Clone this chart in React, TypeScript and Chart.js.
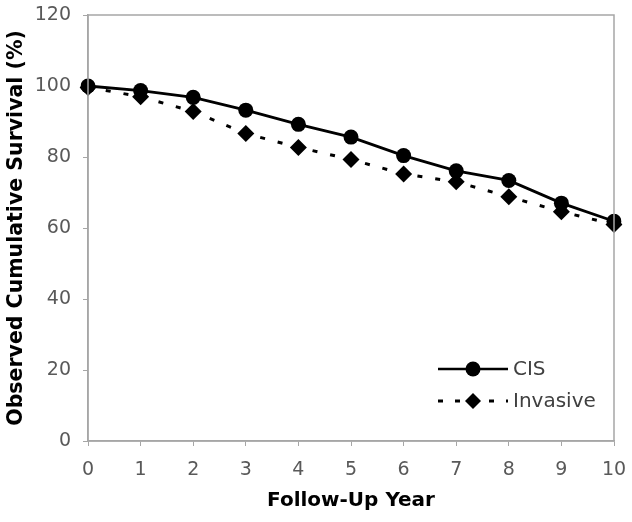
import React, { useEffect, useRef } from "react";
import { Chart, registerables } from "chart.js";

Chart.register(...registerables);

const years = ["0", "1", "2", "3", "4", "5", "6", "7", "8", "9", "10"];
const cisValues = [100, 98.7, 96.8, 93.2, 89.2, 85.6, 80.4, 76.1, 73.4, 67.0, 61.9];
const invasiveValues = [99.6, 97.0, 92.8, 86.6, 82.7, 79.3, 75.2, 73.0, 68.8, 64.6, 61.0];
const yTicks = [0, 20, 40, 60, 80, 100, 120];

const FONT = "'DejaVu Sans', Verdana, sans-serif";

const frameAndLegend = {
  id: "frameAndLegend",
  afterDraw(chart: any) {
    const { ctx, chartArea } = chart;
    ctx.save();
    ctx.strokeStyle = "#a6a6a6";
    ctx.lineWidth = 1.5;
    ctx.strokeRect(chartArea.left, chartArea.top, chartArea.right - chartArea.left, chartArea.bottom - chartArea.top);

    // legend
    const x0 = 438;
    const x1 = 508;
    const mid = (x0 + x1) / 2;
    const rows = [
      { y: chartArea.bottom - 72, dash: [] as number[], style: "circle", label: "CIS", width: 2.5 },
      { y: chartArea.bottom - 40, dash: [5, 12], style: "rectRot", label: "Invasive", width: 3 },
    ];
    rows.forEach((r) => {
      ctx.strokeStyle = "#000";
      ctx.lineWidth = r.width;
      ctx.setLineDash(r.dash);
      ctx.beginPath();
      ctx.moveTo(x0, r.y);
      ctx.lineTo(x1, r.y);
      ctx.stroke();
      ctx.setLineDash([]);
      ctx.fillStyle = "#000";
      ctx.beginPath();
      if (r.style === "circle") {
        ctx.arc(mid, r.y, 7.5, 0, Math.PI * 2);
      } else {
        ctx.moveTo(mid, r.y - 8);
        ctx.lineTo(mid + 8, r.y);
        ctx.lineTo(mid, r.y + 8);
        ctx.lineTo(mid - 8, r.y);
        ctx.closePath();
      }
      ctx.fill();
      ctx.fillStyle = "#404040";
      ctx.font = `20px ${FONT}`;
      ctx.textAlign = "left";
      ctx.textBaseline = "middle";
      ctx.fillText(r.label, x1 + 5, r.y + 1);
    });
    ctx.restore();
  },
};

export default function App() {
  const ref = useRef<HTMLCanvasElement | null>(null);
  useEffect(() => {
    if (!ref.current) return;
    const chart = new Chart(ref.current, {
      type: "line",
      data: {
        labels: years,
        datasets: [
          {
            label: "CIS",
            data: cisValues,
            borderColor: "#000",
            backgroundColor: "#000",
            borderWidth: 2.8,
            pointStyle: "circle",
            pointRadius: 7.5,
            pointBorderWidth: 0,
            tension: 0,
            order: 1,
          },
          {
            label: "Invasive",
            data: invasiveValues,
            borderColor: "#000",
            backgroundColor: "#000",
            borderWidth: 3,
            borderDash: [5, 13],
            pointStyle: "rectRot",
            pointRadius: 8.5,
            pointBorderWidth: 0,
            tension: 0,
            order: 2,
          },
        ],
      },
      options: {
        animation: false,
        responsive: false,
        maintainAspectRatio: false,
        layout: { padding: { top: 15, right: 18, left: 0, bottom: 0 } },
        plugins: { legend: { display: false }, tooltip: { enabled: false } },
        scales: {
          x: {
            type: "category",
            offset: false,
            grid: { drawOnChartArea: false, drawTicks: true, tickLength: 5, color: "#a6a6a6" },
            border: { color: "#a6a6a6", width: 1.5 },
            ticks: { color: "#595959", font: { family: FONT, size: 19 }, padding: 13, maxRotation: 0 },
            title: { display: true, text: "Follow-Up Year", color: "#000", font: { family: FONT, size: 20, weight: "bold" }, padding: { top: 2, bottom: 9 } },
            afterFit(scale: any) {
              scale.height = 81;
              scale.paddingLeft = 0;
              scale.paddingRight = 0;
            },
          },
          y: {
            min: 0,
            max: 120,
            afterBuildTicks(scale: any) { scale.ticks = yTicks.map((v) => ({ value: v })); },
            grid: { drawOnChartArea: false, drawTicks: true, tickLength: 5, color: "#a6a6a6" },
            border: { color: "#a6a6a6", width: 1.5 },
            ticks: { color: "#595959", font: { family: FONT, size: 19 }, padding: 12 },
            title: { display: true, text: "Observed Cumulative Survival (%)", color: "#000", font: { family: FONT, size: 20.5, weight: "bold" }, padding: { bottom: 0 } },
            afterFit(scale: any) {
              scale.width = 88;
              scale.paddingTop = 0;
              scale.paddingBottom = 0;
            },
          },
        },
      },
      plugins: [frameAndLegend],
    });
    return () => chart.destroy();
  }, []);
  return (
    <div style={{ position: "fixed", left: 0, top: 0, width: 632, height: 522, background: "#fff" }}>
      <canvas ref={ref} width={632} height={522} />
    </div>
  );
}
